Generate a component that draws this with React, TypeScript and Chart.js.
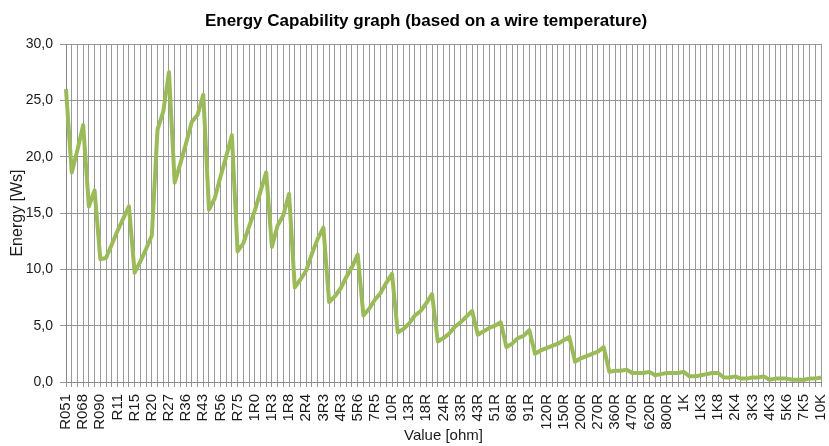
import React, { useEffect, useRef } from 'react';
import { Chart, registerables } from 'chart.js';

Chart.register(...registerables);

const TITLE = 'Energy Capability graph (based on a wire temperature)';
const X_TITLE = 'Value [ohm]';
const Y_TITLE = 'Energy [Ws]';

const categories: string[] = [
  'R051', 'R056', 'R062', 'R068', 'R075', 'R082', 'R090', 'R095', 'R10',
  'R11', 'R12', 'R13', 'R15', 'R16', 'R18', 'R20', 'R22', 'R24',
  'R27', 'R30', 'R33', 'R36', 'R39', 'R40', 'R43', 'R47', 'R51',
  'R56', 'R62', 'R68', 'R75', 'R82', 'R91', '1R0', '1R1', '1R2',
  '1R3', '1R5', '1R6', '1R8', '2R0', '2R2', '2R4', '2R7', '3R0',
  '3R3', '3R6', '3R9', '4R3', '4R7', '5R1', '5R6', '6R2', '6R8',
  '7R5', '8R2', '9R1', '10R', '11R', '12R', '13R', '15R', '16R',
  '18R', '20R', '22R', '24R', '27R', '30R', '33R', '36R', '39R',
  '43R', '47R', '50R', '51R', '56R', '62R', '68R', '75R', '82R',
  '91R', '100R', '110R', '120R', '130R', '140R', '150R', '160R', '180R',
  '200R', '220R', '240R', '270R', '300R', '330R', '360R', '390R', '430R',
  '470R', '510R', '560R', '620R', '680R', '750R', '800R', '820R', '910R',
  '1K', '1K1', '1K2', '1K3', '1K5', '1K6', '1K8', '2K0', '2K2',
  '2K4', '2K7', '3K0', '3K3', '3K6', '3K9', '4K3', '4K7', '5K1',
  '5K6', '6K2', '6K8', '7K5', '8K2', '9K1', '10K',
];

const energy: number[] = [
  26.0, 18.6, 20.6, 22.8, 15.6, 17.0, 10.9, 11.0, 12.2,
  13.4, 14.5, 15.6, 9.7, 10.7, 11.8, 13.0, 22.4, 24.0,
  27.5, 17.7, 19.4, 21.2, 23.1, 23.7, 25.5, 15.3, 16.3,
  18.2, 20.0, 21.9, 11.6, 12.3, 13.8, 15.2, 16.9, 18.6,
  12.0, 13.9, 14.8, 16.7, 8.4, 9.1, 9.9, 11.4, 12.7,
  13.7, 7.1, 7.6, 8.3, 9.3, 10.2, 11.3, 5.9, 6.5,
  7.3, 7.9, 8.8, 9.6, 4.4, 4.7, 5.2, 5.9, 6.3,
  7.0, 7.8, 3.6, 3.9, 4.3, 4.9, 5.3, 5.8, 6.3,
  4.2, 4.5, 4.8, 5.0, 5.3, 3.1, 3.4, 3.9, 4.1,
  4.6, 2.5, 2.8, 3.0, 3.2, 3.4, 3.7, 4.0, 1.8,
  2.1, 2.3, 2.5, 2.7, 3.1, 0.9, 1.0, 1.0, 1.1,
  0.8, 0.8, 0.8, 0.9, 0.6, 0.7, 0.8, 0.8, 0.8,
  0.9, 0.5, 0.5, 0.6, 0.7, 0.8, 0.8, 0.4, 0.4,
  0.5, 0.3, 0.3, 0.4, 0.4, 0.5, 0.2, 0.3, 0.3,
  0.3, 0.2, 0.2, 0.2, 0.3, 0.3, 0.4,
];

const Y_MIN = 0;
const Y_MAX = 30;
const Y_STEP = 5;
const LABEL_EVERY = 3;

const FONT = '"Liberation Sans", Arial, sans-serif';

export default function App() {
  const canvasRef = useRef<HTMLCanvasElement | null>(null);

  useEffect(() => {
    document.body.style.margin = '0';
    const canvas = canvasRef.current;
    if (!canvas) return;

    const titlePlugin = {
      id: 'excelTitle',
      afterDraw(chart: any) {
        const { ctx } = chart;
        ctx.save();
        ctx.font = `bold 17px ${FONT}`;
        ctx.fillStyle = '#000000';
        ctx.textAlign = 'center';
        ctx.textBaseline = 'middle';
        ctx.fillText(TITLE, 426, 21);
        ctx.restore();
      },
    };

    const chart = new Chart(canvas, {
      type: 'line',
      data: {
        labels: categories,
        datasets: [
          {
            label: 'Energy',
            data: energy,
            borderColor: '#9BBB59',
            backgroundColor: '#9BBB59',
            borderWidth: 4,
            pointRadius: 0,
            pointHoverRadius: 0,
            tension: 0,
            fill: false,
            borderJoinStyle: 'round',
          },
        ],
      },
      options: {
        animation: false,
        responsive: false,
        devicePixelRatio: 1,
        layout: { padding: { top: 44, right: 8, left: 0, bottom: 0 } },
        plugins: {
          legend: { display: false },
          tooltip: { enabled: false },
          title: { display: false },
        },
        scales: {
          x: {
            type: 'category',
            offset: false,
            grid: {
              color: '#999999',
              lineWidth: 1,
              tickLength: 5,
              drawTicks: true,
            },
            border: { color: '#888888', width: 1 },
            ticks: {
              autoSkip: false,
              minRotation: 90,
              maxRotation: 90,
              padding: 7,
              color: '#1a1a1a',
              font: { family: FONT, size: 15 },
              callback: (_v: any, i: number) => (i % LABEL_EVERY === 0 ? categories[i] : ''),
            },
            title: {
              display: true,
              text: X_TITLE,
              color: '#1a1a1a',
              font: { family: FONT, size: 15 },
              padding: { top: 0, bottom: 1 },
            },
            afterFit(scale: any) {
              scale.height = 64;
              scale.paddingLeft = 0;
              scale.paddingRight = 0;
            },
          },
          y: {
            min: Y_MIN,
            max: Y_MAX,
            grid: {
              color: '#959595',
              lineWidth: 1,
              tickLength: 6,
            },
            border: { color: '#888888', width: 1 },
            ticks: {
              stepSize: Y_STEP,
              padding: 7,
              color: '#1a1a1a',
              font: { family: FONT, size: 14 },
              callback: (v: any) => Number(v).toFixed(1).replace('.', ','),
            },
            title: {
              display: true,
              text: Y_TITLE,
              color: '#1a1a1a',
              font: { family: FONT, size: 16 },
              padding: { top: 8, bottom: 0 },
            },
            afterFit(scale: any) {
              scale.width = 66;
            },
          },
        },
      },
      plugins: [titlePlugin],
    });

    return () => chart.destroy();
  }, []);

  return (
    <div style={{ width: 829, height: 446 }}>
      <canvas ref={canvasRef} width={829} height={446} style={{ display: 'block' }} />
    </div>
  );
}
